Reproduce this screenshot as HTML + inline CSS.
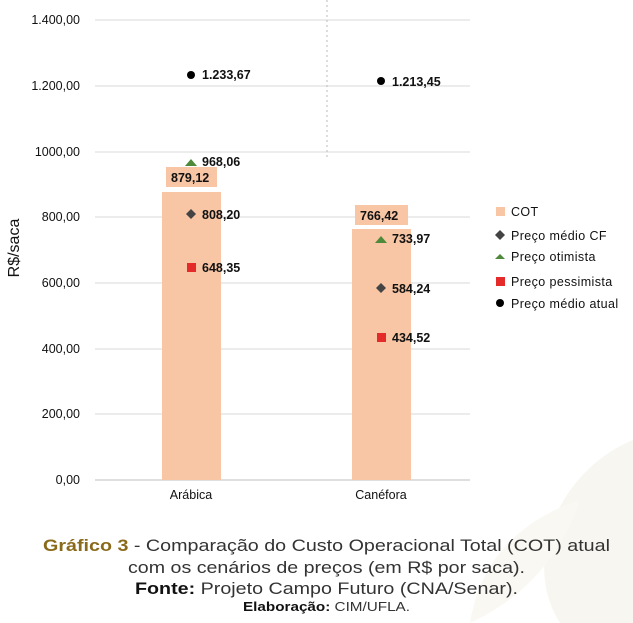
<!DOCTYPE html><html><head><style>body{margin:0;background:#fff;}svg{display:block;font-family:"Liberation Sans",sans-serif;}</style></head><body>
<svg width="633" height="623" viewBox="0 0 633 623">
<rect width="633" height="623" fill="#fff"/>
<path d="M560 623 C520 560 560 470 633 440 L633 623Z" fill="#f8f6f0"/>
<path d="M470 623 C480 560 520 520 580 500 C560 560 520 600 470 623Z" fill="#faf8f3"/>
<g stroke="#d9d9d9" stroke-width="1">
<line x1="95" y1="20" x2="470" y2="20"/><line x1="95" y1="86" x2="470" y2="86"/><line x1="95" y1="152" x2="470" y2="152"/><line x1="95" y1="217" x2="470" y2="217"/><line x1="95" y1="283" x2="470" y2="283"/><line x1="95" y1="349" x2="470" y2="349"/><line x1="95" y1="414" x2="470" y2="414"/></g>
<line x1="95" y1="480" x2="470" y2="480" stroke="#bfbfbf"/>
<line x1="327" y1="0" x2="327" y2="160" stroke="#bbb" stroke-dasharray="2,3"/>
<g font-size="12.5" fill="#111" text-anchor="end">
<text x="80" y="24">1.400,00</text><text x="80" y="90">1.200,00</text><text x="80" y="156">1000,00</text><text x="80" y="221">800,00</text><text x="80" y="287">600,00</text><text x="80" y="353">400,00</text><text x="80" y="418">200,00</text><text x="80" y="484">0,00</text></g>
<text transform="translate(19,248) rotate(-90)" font-size="16" fill="#111" text-anchor="middle">R$/saca</text>
<rect x="162" y="192" width="59" height="288" fill="#f8c5a5"/>
<rect x="352" y="229" width="59" height="251" fill="#f8c5a5"/>
<rect x="166" y="167" width="51" height="20" fill="#f8c5a5"/>
<rect x="355" y="205" width="53" height="20" fill="#f8c5a5"/>
<g font-size="12.5" fill="#111" font-weight="bold">
<text x="171" y="182">879,12</text><text x="360" y="220">766,42</text>
<text x="202" y="79">1.233,67</text><text x="202" y="166">968,06</text><text x="202" y="219">808,20</text><text x="202" y="272">648,35</text>
<text x="392" y="86">1.213,45</text><text x="392" y="243">733,97</text><text x="392" y="293">584,24</text><text x="392" y="342">434,52</text></g>
<circle cx="191" cy="75" r="4" fill="#000"/><circle cx="381" cy="81" r="4" fill="#000"/>
<path d="M185 166 L191 159 L197 166Z" fill="#4e8a3a"/><path d="M375 243 L381 236 L387 243Z" fill="#4e8a3a"/>
<path d="M191 209 L196 214 L191 219 L186 214Z" fill="#444"/><path d="M381 283 L386 288 L381 293 L376 288Z" fill="#444"/>
<rect x="187" y="263" width="9" height="9" fill="#e52a2a"/><rect x="377" y="333" width="9" height="9" fill="#e52a2a"/>
<g font-size="12.5" fill="#111" text-anchor="middle"><text x="191" y="499">Arábica</text><text x="381" y="499">Canéfora</text></g>
<rect x="496" y="207" width="9" height="9" fill="#f8c5a5"/>
<path d="M500 230 L505 235 L500 240 L495 235Z" fill="#444"/>
<path d="M495 259 L500 254 L505 259Z" fill="#4e8a3a"/>
<rect x="496" y="277" width="9" height="9" fill="#e52a2a"/>
<circle cx="500" cy="303" r="4" fill="#000"/>
<g font-size="12.5" fill="#111" letter-spacing="0.4"><text x="511" y="216">COT</text><text x="511" y="240">Preço médio CF</text><text x="511" y="261">Preço otimista</text><text x="511" y="286">Preço pessimista</text><text x="511" y="308">Preço médio atual</text></g>
<g font-size="17" fill="#333">
<text x="43" y="551" textLength="567" lengthAdjust="spacingAndGlyphs"><tspan fill="#8a6a1a" font-weight="bold">Gráfico 3</tspan> - Comparação do Custo Operacional Total (COT) atual</text>
<text x="128" y="573" textLength="397" lengthAdjust="spacingAndGlyphs">com os cenários de preços (em R$ por saca).</text>
<text x="135" y="594" textLength="383" lengthAdjust="spacingAndGlyphs"><tspan font-weight="bold" fill="#111">Fonte:</tspan> Projeto Campo Futuro (CNA/Senar).</text></g>
<text x="243" y="611" font-size="12.5" fill="#333" textLength="167" lengthAdjust="spacingAndGlyphs"><tspan font-weight="bold" fill="#111">Elaboração:</tspan> CIM/UFLA.</text>
</svg></body></html>
